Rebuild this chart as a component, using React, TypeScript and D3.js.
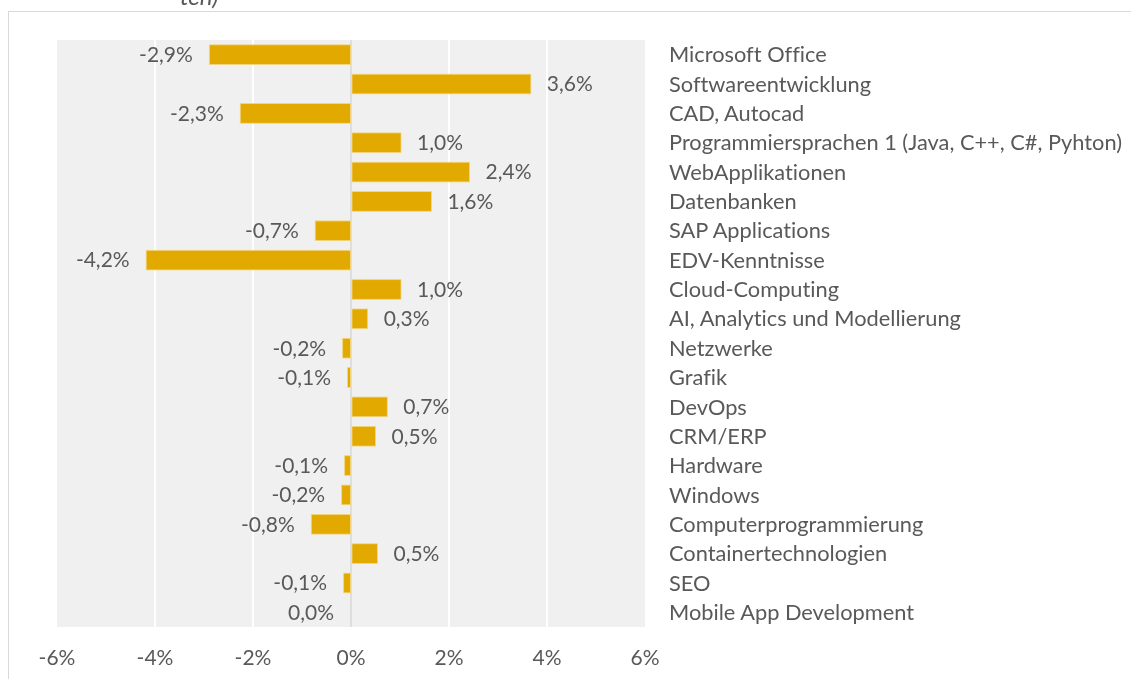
import { useEffect, useRef } from "react";
import * as d3 from "d3";

const categories = [
  "Microsoft Office",
  "Softwareentwicklung",
  "CAD, Autocad",
  "Programmiersprachen 1 (Java, C++, C#, Pyhton)",
  "WebApplikationen",
  "Datenbanken",
  "SAP Applications",
  "EDV-Kenntnisse",
  "Cloud-Computing",
  "AI, Analytics und Modellierung",
  "Netzwerke",
  "Grafik",
  "DevOps",
  "CRM/ERP",
  "Hardware",
  "Windows",
  "Computerprogrammierung",
  "Containertechnologien",
  "SEO",
  "Mobile App Development",
];

// change in percentage points
const values = [
  -2.88, 3.65, -2.25, 1.0, 2.4, 1.62, -0.72, -4.17, 1.0, 0.32,
  -0.16, -0.06, 0.72, 0.48, -0.12, -0.18, -0.8, 0.52, -0.14, 0.0,
];

const ticks = [-6, -4, -2, 0, 2, 4, 6];

const FONT = "Lato, 'Open Sans', sans-serif";
const GREY = "#595959";

export default function App() {
  const ref = useRef<SVGSVGElement>(null);

  useEffect(() => {
    if (!ref.current) return;
    const svg = d3.select(ref.current);
    svg.selectAll("*").remove();

    const plot = { left: 57, right: 645, top: 40, bottom: 627 };

    const x = d3.scaleLinear().domain([-6, 6]).range([plot.left, plot.right]);
    const y = d3
      .scaleBand()
      .domain(categories)
      .range([plot.top, plot.bottom])
      .paddingInner(0.33)
      .paddingOuter(0.165);

    // outer frame (chart area border)
    svg.append("rect")
      .attr("x", 8.5)
      .attr("y", 11.5)
      .attr("width", 1300)
      .attr("height", 800)
      .attr("fill", "#fff")
      .attr("stroke", "#d9d9d9");

    // clipped title remainder
    svg.append("text")
      .attr("x", 180)
      .attr("y", 5)
      .attr("font-family", FONT)
      .attr("font-style", "italic")
      .attr("font-size", 24)
      .attr("fill", GREY)
      .text("ten)");

    svg.append("rect")
      .attr("x", plot.left)
      .attr("y", plot.top)
      .attr("width", plot.right - plot.left)
      .attr("height", plot.bottom - plot.top)
      .attr("fill", "#f0f0f0");

    // gridlines
    svg.selectAll("line.grid")
      .data(ticks.filter((t) => t !== 0 && Math.abs(t) !== 6))
      .enter()
      .append("line")
      .attr("class", "grid")
      .attr("x1", (d) => x(d))
      .attr("x2", (d) => x(d))
      .attr("y1", plot.top)
      .attr("y2", plot.bottom)
      .attr("stroke", "#fff")
      .attr("stroke-width", 2);

    svg.append("line")
      .attr("x1", x(0))
      .attr("x2", x(0))
      .attr("y1", plot.top)
      .attr("y2", plot.bottom)
      .attr("stroke", "#d9d9d9")
      .attr("stroke-width", 1.5);

    svg.selectAll("rect.bar")
      .data(values)
      .enter()
      .append("rect")
      .attr("class", "bar")
      .attr("x", (d) => x(Math.min(0, d)) + (d >= 0 ? 1 : -0.5))
      .attr("y", (_, i) => y(categories[i])!)
      .attr("width", (d) => Math.abs(x(d) - x(0)))
      .attr("height", y.bandwidth())
      .attr("fill", "#e2a900")
      .attr("stroke", "#f3d680")
      .attr("stroke-width", 0.8);

    const fmt = (d: number) =>
      (Math.abs(d) < 0.0001 ? 0 : d).toFixed(1).replace(".", ",") + "%";

    svg.selectAll("text.val")
      .data(values)
      .enter()
      .append("text")
      .attr("class", "val")
      .attr("x", (d) => (d > 0 ? x(d) + 17 : x(d) - 17))
      .attr("y", (_, i) => y(categories[i])! + y.bandwidth() / 2)
      .attr("dy", "0.35em")
      .attr("text-anchor", (d) => (d > 0 ? "start" : "end"))
      .attr("font-family", FONT)
      .attr("font-size", 21)
      .attr("fill", GREY)
      .text(fmt);

    svg.selectAll("text.cat")
      .data(categories)
      .enter()
      .append("text")
      .attr("class", "cat")
      .attr("x", 669)
      .attr("y", (d) => y(d)! + y.bandwidth() / 2)
      .attr("dy", "0.35em")
      .attr("font-family", FONT)
      .attr("font-size", 21.8)
      .style("font-variant-ligatures", "none")
      .attr("fill", GREY)
      .text((d) => d);

    svg.selectAll("text.tick")
      .data(ticks)
      .enter()
      .append("text")
      .attr("class", "tick")
      .attr("x", (d) => x(d))
      .attr("y", 665)
      .attr("text-anchor", "middle")
      .attr("font-family", FONT)
      .attr("font-size", 21)
      .attr("fill", GREY)
      .text((d) => `${d}%`);
  }, []);

  return (
    <svg
      ref={ref}
      width={1131}
      height={679}
      style={{ position: "fixed", left: 0, top: 0 }}
    />
  );
}
